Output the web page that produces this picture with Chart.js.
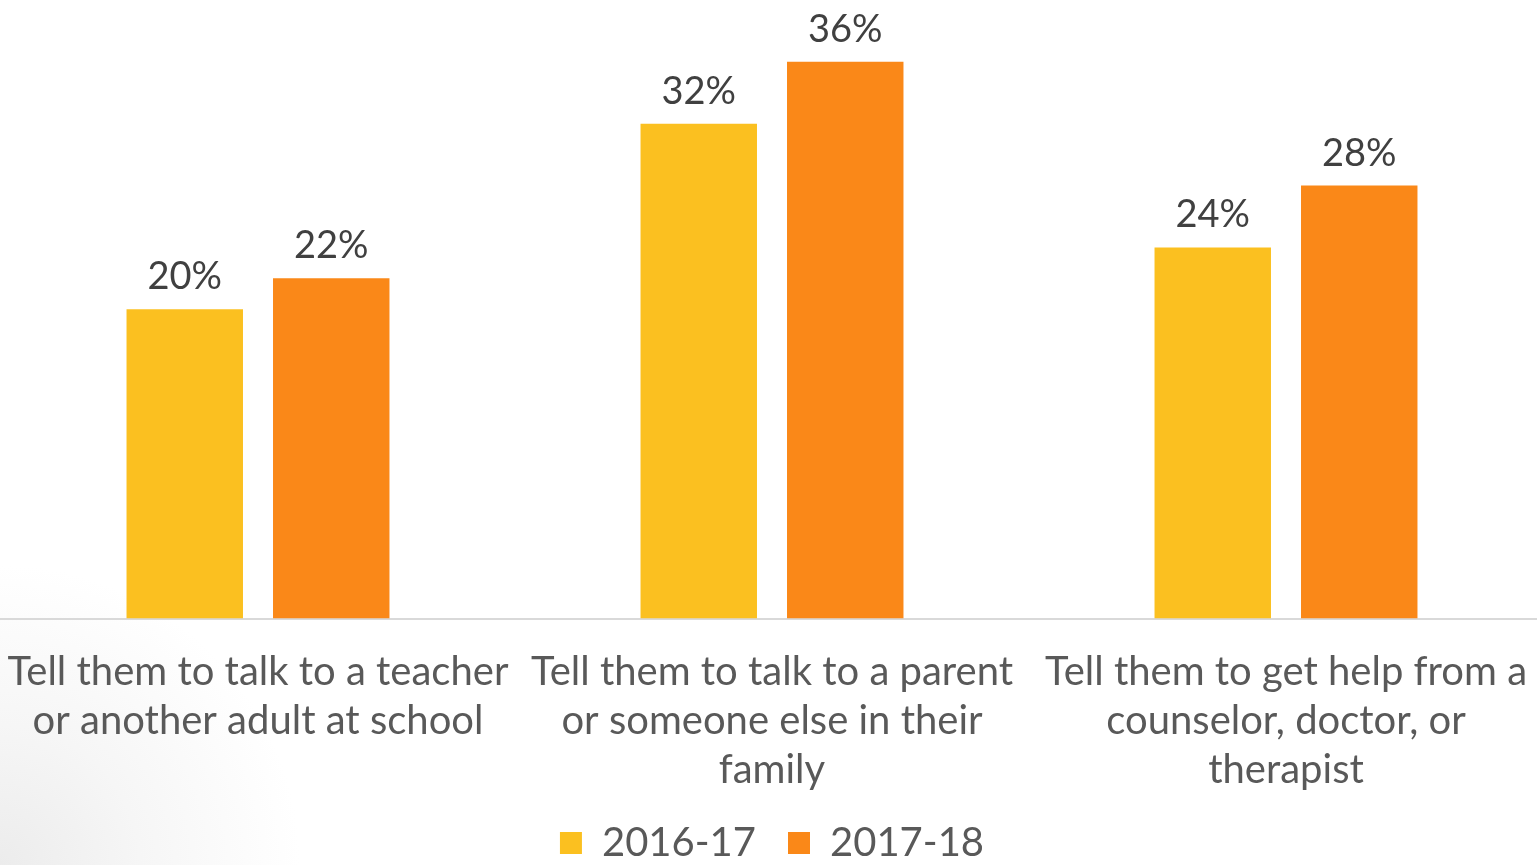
<!DOCTYPE html>
<html>
<head>
<meta charset="utf-8">
<script src="https://cdn.jsdelivr.net/npm/chart.js@4.4.1/dist/chart.umd.min.js"></script>
<style>
  html, body { margin: 0; padding: 0; }
  body {
    width: 1537px; height: 865px; overflow: hidden;
    background: radial-gradient(circle at 0 865px, #ececec 0px, #f6f6f6 140px, #ffffff 300px);
  }
  #wrap { position: relative; width: 1537px; height: 865px; overflow: hidden; }
</style>
</head>
<body>
<div id="wrap"><canvas id="chart" width="1543" height="865"></canvas></div>
<script>
// Survey responses: what students would tell a friend to do
const categories = [
  ["Tell them to talk to a teacher", "or another adult at school"],
  ["Tell them to talk to a parent", "or someone else in their", "family"],
  ["Tell them to get help from a", "counselor, doctor, or", "therapist"]
];
const seriesNames = ["2016-17", "2017-18"];
const values2016 = [20, 32, 24];
const values2017 = [22, 36, 28];
const seriesColors = ["#FBC020", "#FA8818"];

const FONT = "Lato, 'Open Sans', sans-serif";
const TICK_PAD = 29;
const TICK_SIZE = 40;
const TICK_LINE = 1.22;

// Draws the percentage above each bar
const valueLabels = {
  id: "valueLabels",
  afterDatasetsDraw(chart) {
    const ctx = chart.ctx;
    ctx.save();
    ctx.font = "38px " + FONT;
    ctx.fillStyle = "#404040";
    ctx.textAlign = "center";
    ctx.textBaseline = "alphabetic";
    chart.data.datasets.forEach((ds, i) => {
      chart.getDatasetMeta(i).data.forEach((bar, j) => {
        ctx.fillText(ds.data[j] + "%", bar.x, bar.y - 20);
      });
    });
    ctx.restore();
  }
};

new Chart(document.getElementById("chart"), {
  type: "bar",
  data: {
    labels: categories,
    datasets: [
      { label: seriesNames[0], data: values2016, backgroundColor: seriesColors[0] },
      { label: seriesNames[1], data: values2017, backgroundColor: seriesColors[1] }
    ]
  },
  options: {
    responsive: false,
    animation: false,
    layout: { padding: { top: 0, left: 1, right: 0, bottom: -8 } },
    datasets: { bar: { categoryPercentage: 0.57, barPercentage: 0.795 } },
    scales: {
      x: {
        grid: { display: false, drawTicks: false },
        border: { display: true, color: "#d9d9d9", width: 2 },
        ticks: {
          color: "#595959",
          font: { family: FONT, size: TICK_SIZE, lineHeight: TICK_LINE },
          padding: TICK_PAD,
          maxRotation: 0,
          autoSkip: false
        },
        afterFit(scale) {
          // let the wide labels run to the canvas edges and keep one padding gap
          scale.paddingLeft = 0;
          scale.paddingRight = 0;
          scale.height = TICK_PAD - 3 + 3 * TICK_SIZE * TICK_LINE;
        }
      },
      y: {
        display: false,
        min: 0,
        max: 40
      }
    },
    plugins: {
      legend: {
        position: "bottom",
        labels: {
          color: "#595959",
          font: { family: FONT, size: 40 },
          boxWidth: 22,
          boxHeight: 22,
          padding: 32
        }
      },
      tooltip: { enabled: false }
    }
  },
  plugins: [valueLabels]
});
</script>
</body>
</html>
